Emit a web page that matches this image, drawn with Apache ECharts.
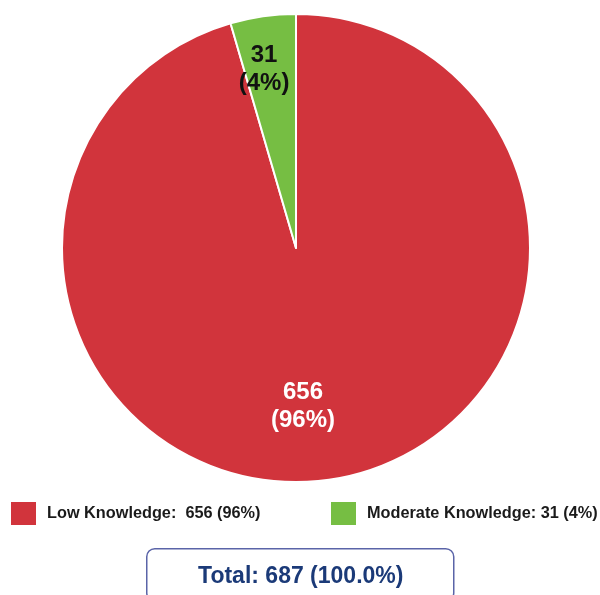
<!DOCTYPE html>
<html><head><meta charset="utf-8">
<script src="https://cdn.jsdelivr.net/npm/echarts@6/dist/echarts.min.js"></script>
<style>html,body{margin:0;padding:0;background:#fff}#c{width:600px;height:595px}</style>
</head><body><div id="c"></div>
<script>
const categories = ['Low Knowledge', 'Moderate Knowledge'];
const values = [656, 31];
const percentLabels = ['96%', '4%'];
const colors = ['#D1343C', '#76BE43'];

const total = values.reduce((a, b) => a + b, 0);
const FONT = '"Liberation Sans", Arial, sans-serif';

const chart = echarts.init(document.getElementById('c'));
const data = categories.map((n, i) => ({ name: n, value: values[i], itemStyle: { color: colors[i] } }));

chart.setOption({
  animation: false,
  legend: [
    { data: ['Low Knowledge'], left: 9, top: 500, sep: ':  ' },
    { data: ['Moderate Knowledge'], left: 329, top: 500, sep: ': ' }
  ].map(l => {
    const sep = l.sep; delete l.sep;
    return Object.assign(l, {
      padding: 0,
      icon: 'rect', itemWidth: 27, itemHeight: 25, itemGap: 10,
      formatter: name => { const i = categories.indexOf(name); return name + sep + values[i] + ' (' + percentLabels[i] + ')'; },
      textStyle: { fontFamily: FONT, fontSize: 16.3, fontWeight: 'bold', color: '#1a1a1a', padding: [0, 0, 0, 5] }
    });
  }),
  series: [{
    type: 'pie',
    center: [296, 248], radius: [0, 234],
    startAngle: 90, clockwise: true,
    itemStyle: { borderColor: '#fff', borderWidth: 2 },
    label: {
      show: true, position: 'inside',
      formatter: p => p.value + '\n(' + percentLabels[p.dataIndex] + ')',
      fontFamily: FONT, fontSize: 24, fontWeight: 'bold', lineHeight: 28,
      color: '#fff'
    },
    labelLayout: p => p.dataIndex === 0 ? { dx: -10, dy: 40 } : { dx: -15, dy: -60 },
    data: data.map((d, i) => i === 1 ? Object.assign({}, d, { label: { color: '#111' } }) : d)
  }],
  graphic: [{
    type: 'group', left: 146, top: 548,
    children: [
      { type: 'rect', shape: { x: 0, y: 0, width: 307, height: 52, r: 8 },
        style: { fill: '#fff', stroke: '#5A64A8', lineWidth: 1.5 } },
      { type: 'text', x: 154, y: 28,
        style: { text: 'Total: ' + total + ' (100.0%)', fontFamily: FONT, fontSize: 23, fontWeight: 'bold',
                 fill: '#1B3A78', align: 'center', verticalAlign: 'middle' } }
    ]
  }]
});
</script></body></html>
